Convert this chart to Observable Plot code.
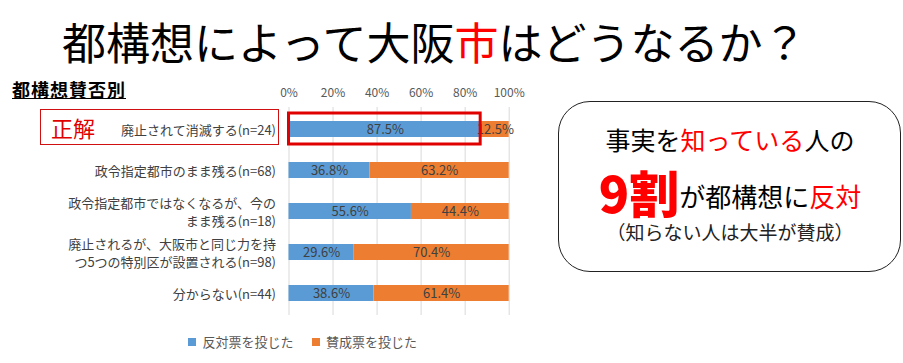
<!DOCTYPE html>
<html><head><meta charset="utf-8">
<script src="https://cdn.jsdelivr.net/npm/d3@7"></script>
<script src="https://cdn.jsdelivr.net/npm/@observablehq/plot@0.6"></script>
<style>
body{margin:0;background:#fff;font-family:"Noto Sans CJK JP",sans-serif;}
#page{position:relative;width:903px;height:363px;overflow:hidden;background:#fff}
.abs{position:absolute;white-space:nowrap}
.red{color:#ff0000}
#title{left:62px;top:19px;font-size:44px;line-height:44px;color:#000}
#sub{left:12px;top:80px;font-size:18px;line-height:18px;font-weight:bold;text-decoration:underline;color:#000;letter-spacing:1px}
#chart{position:absolute;left:0;top:75px}
#seikai{left:40px;top:109px;width:237px;height:34px;border:1.5px solid #d01010}
#seikaiText{left:51px;top:116px;font-size:22px;line-height:22px;color:#e00000}
#box{position:absolute;left:558px;top:101px;width:341px;height:169px;border:1.5px solid #222;border-radius:32px}
.cl{left:558px;width:344px;text-align:center}
#l1{top:127px;font-size:25px;line-height:25px;color:#000}
#l2{top:165px;height:50px;display:flex;justify-content:center;align-items:flex-end;color:#000}
#l2 .big{display:block;font-size:50px;line-height:48px;height:48px;font-weight:900;color:#ff0000}
#l2 .sm{display:block;font-size:26px;line-height:26px;height:26px;margin-bottom:6px}
#l3{top:222px;font-size:19px;line-height:19px;color:#222}
#legend{position:absolute;left:188px;top:325px}
#legend div, #legend span{font-family:"Noto Sans CJK JP",sans-serif !important;font-size:13px !important;color:#595959 !important}
#legend [class$="-swatch"]{margin-right:18px !important}
</style></head><body>
<div id="page">
 <div id="title" class="abs">都構想によって大阪<span class="red">市</span>はどうなるか？</div>
 <div id="sub" class="abs">都構想賛否別</div>
 <div id="chart"></div>
 <div id="seikai" class="abs"></div>
 <div id="seikaiText" class="abs">正解</div>
 <div id="box"></div>
 <div id="l1" class="abs cl">事実を<span class="red">知っている</span>人の</div>
 <div id="l2" class="abs cl"><span class="big">9割</span><span class="sm">が都構想に<span class="red">反対</span></span></div>
 <div id="l3" class="abs cl">（知らない人は大半が賛成）</div>
 <div id="legend"></div>
</div>
<script>
const categories = [
  "廃止されて消滅する(n=24)",
  "政令指定都市のまま残る(n=68)",
  "政令指定都市ではなくなるが、今の\nまま残る(n=18)",
  "廃止されるが、大阪市と同じ力を持\nつ5つの特別区が設置される(n=98)",
  "分からない(n=44)"
];
const seriesNames = ["反対票を投じた", "賛成票を投じた"];
const opposeValues = [87.5, 36.8, 55.6, 29.6, 38.6];
const supportValues = [12.5, 63.2, 44.4, 70.4, 61.4];
const xTicks = [0, 20, 40, 60, 80, 100];
const seriesColors = ["#5B9BD5", "#ED7D31"];

const data = categories.flatMap((c, i) => [
  {category: c, series: seriesNames[0], value: opposeValues[i]},
  {category: c, series: seriesNames[1], value: supportValues[i]}
]);
const highlight = [{category: categories[0], value: opposeValues[0]}];
const font = "'Noto Sans CJK JP', sans-serif";

const chart = Plot.plot({
  width: 540, height: 250,
  marginLeft: 288.5, marginRight: 31.3, marginTop: 32, marginBottom: 10,
  style: {fontFamily: font, fontSize: "13px", color: "#404040", background: "transparent", overflow: "visible"},
  x: {domain: [0, 100]},
  y: {domain: categories, paddingInner: 0.617, paddingOuter: 0.3},
  color: {domain: seriesNames, range: seriesColors},
  marks: [
    Plot.gridX(xTicks, {stroke: "#d9d9d9", strokeOpacity: 1}),
    Plot.axisX(xTicks, {anchor: "top", tickSize: 0, tickPadding: 11, tickFormat: d => d + "%", fontSize: 12, fill: "#595959", label: null}),
    Plot.axisY({tickSize: 0, tickPadding: 13, fontSize: 13, lineHeight: 1.32, fill: "#404040", label: null}),
    Plot.barX(data, {x: "value", y: "category", fill: "series"}),
    Plot.text(data, Plot.stackX({x: "value", y: "category", z: "series", text: d => d.value.toFixed(1) + "%", fill: "#404040", fontSize: 13})),
    Plot.barX(highlight, {x: "value", y: "category", fill: "none", stroke: "#e00000", strokeWidth: 3, insetTop: -8, insetBottom: -7, insetRight: 1})
  ]
});
document.getElementById("chart").appendChild(chart);
document.getElementById("legend").appendChild(chart.legend("color", {swatchSize: 8}));
</script>
</body></html>
